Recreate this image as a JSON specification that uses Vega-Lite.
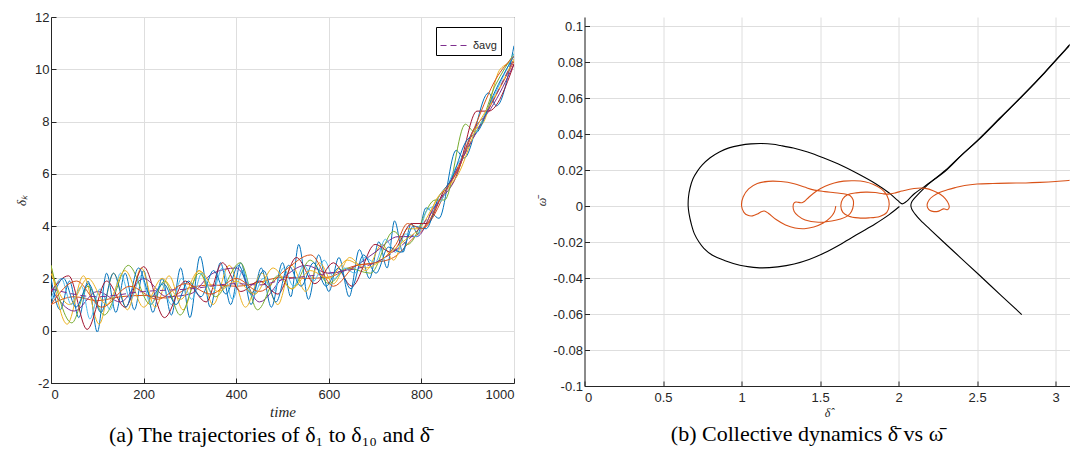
{
"$schema": "https://vega.github.io/schema/vega-lite/v6.json",
"background": "white",
"padding": {"left": 15, "top": 10, "right": 0, "bottom": 0},
"spacing": 20.5,
"config": {"font": "Liberation Sans", "axis": {"labelFont": "Liberation Sans", "labelFontSize": 13, "labelColor": "#262626", "labelOverlap": false, "tickCount": 30, "domainColor": "#262626", "tickColor": "#262626", "tickSize": -5, "gridColor": "#dedede", "gridWidth": 1, "titleFontWeight": "normal", "titleColor": "#262626"}, "axisX": {"labelPadding": 10}, "axisY": {"labelPadding": 7}},
"datasets": {
"a": [
{"s":"1","t":0,"v":2.0},{"s":"1","t":20,"v":0.8},{"s":"1","t":40,"v":1.9},{"s":"1","t":60,"v":0.5},{"s":"1","t":80,"v":1.9},{"s":"1","t":100,"v":-0.05},{"s":"1","t":120,"v":2.2},{"s":"1","t":140,"v":0.7},{"s":"1","t":160,"v":2.2},{"s":"1","t":180,"v":0.8},{"s":"1","t":200,"v":2.3},{"s":"1","t":220,"v":0.7},{"s":"1","t":240,"v":2.0},{"s":"1","t":260,"v":0.6},{"s":"1","t":280,"v":2.4},{"s":"1","t":300,"v":0.5},{"s":"1","t":322,"v":2.85},{"s":"1","t":344,"v":0.9},{"s":"1","t":366,"v":2.6},{"s":"1","t":388,"v":1.0},{"s":"1","t":410,"v":2.6},{"s":"1","t":432,"v":1.0},{"s":"1","t":454,"v":2.4},{"s":"1","t":476,"v":0.9},{"s":"1","t":500,"v":2.6},{"s":"1","t":518,"v":1.3},{"s":"1","t":535,"v":3.3},{"s":"1","t":556,"v":1.2},{"s":"1","t":578,"v":2.9},{"s":"1","t":600,"v":1.5},{"s":"1","t":622,"v":2.8},{"s":"1","t":644,"v":1.3},{"s":"1","t":666,"v":3.1},{"s":"1","t":688,"v":2.0},{"s":"1","t":708,"v":3.4},{"s":"1","t":726,"v":2.4},{"s":"1","t":742,"v":4.2},{"s":"1","t":760,"v":3.0},{"s":"1","t":778,"v":4.1},{"s":"1","t":792,"v":3.7},{"s":"1","t":810,"v":4.7},{"s":"1","t":838,"v":4.3},{"s":"1","t":875,"v":6.9},{"s":"1","t":892,"v":6.6},{"s":"1","t":945,"v":9.1},{"s":"1","t":962,"v":8.6},{"s":"1","t":1000,"v":10.9},
{"s":"2","t":0,"v":1.0},{"s":"2","t":50,"v":1.3},{"s":"2","t":100,"v":1.15},{"s":"2","t":150,"v":1.3},{"s":"2","t":200,"v":1.35},{"s":"2","t":250,"v":1.25},{"s":"2","t":300,"v":1.65},{"s":"2","t":350,"v":1.75},{"s":"2","t":400,"v":1.7},{"s":"2","t":450,"v":1.85},{"s":"2","t":500,"v":2.05},{"s":"2","t":550,"v":2.0},{"s":"2","t":600,"v":2.05},{"s":"2","t":650,"v":2.45},{"s":"2","t":700,"v":2.6},{"s":"2","t":740,"v":2.8},{"s":"2","t":780,"v":3.5},{"s":"2","t":820,"v":4.2},{"s":"2","t":860,"v":5.6},{"s":"2","t":900,"v":7.0},{"s":"2","t":940,"v":8.3},{"s":"2","t":970,"v":9.3},{"s":"2","t":1000,"v":10.3},
{"s":"3","t":0,"v":2.5},{"s":"3","t":35,"v":0.25},{"s":"3","t":70,"v":2.1},{"s":"3","t":104,"v":0.25},{"s":"3","t":135,"v":2.2},{"s":"3","t":165,"v":0.8},{"s":"3","t":195,"v":2.4},{"s":"3","t":225,"v":0.9},{"s":"3","t":255,"v":2.1},{"s":"3","t":285,"v":0.8},{"s":"3","t":320,"v":2.3},{"s":"3","t":350,"v":1.0},{"s":"3","t":385,"v":2.5},{"s":"3","t":420,"v":0.9},{"s":"3","t":455,"v":2.2},{"s":"3","t":490,"v":1.0},{"s":"3","t":520,"v":2.5},{"s":"3","t":550,"v":1.5},{"s":"3","t":580,"v":2.6},{"s":"3","t":610,"v":1.8},{"s":"3","t":645,"v":2.8},{"s":"3","t":680,"v":2.3},{"s":"3","t":715,"v":3.3},{"s":"3","t":740,"v":2.7},{"s":"3","t":770,"v":3.9},{"s":"3","t":800,"v":3.9},{"s":"3","t":835,"v":5.1},{"s":"3","t":870,"v":5.7},{"s":"3","t":910,"v":7.6},{"s":"3","t":935,"v":8.0},{"s":"3","t":970,"v":10.0},{"s":"3","t":1000,"v":10.3},
{"s":"4","t":0,"v":1.6},{"s":"4","t":50,"v":0.75},{"s":"4","t":100,"v":1.5},{"s":"4","t":150,"v":1.1},{"s":"4","t":200,"v":2.0},{"s":"4","t":250,"v":1.3},{"s":"4","t":300,"v":1.4},{"s":"4","t":350,"v":2.2},{"s":"4","t":400,"v":2.4},{"s":"4","t":450,"v":1.1},{"s":"4","t":500,"v":2.0},{"s":"4","t":550,"v":2.5},{"s":"4","t":600,"v":2.2},{"s":"4","t":650,"v":2.4},{"s":"4","t":700,"v":3.0},{"s":"4","t":750,"v":3.6},{"s":"4","t":790,"v":3.6},{"s":"4","t":830,"v":4.8},{"s":"4","t":870,"v":5.7},{"s":"4","t":910,"v":7.6},{"s":"4","t":950,"v":8.5},{"s":"4","t":1000,"v":10.2},
{"s":"5","t":0,"v":2.5},{"s":"5","t":45,"v":0.3},{"s":"5","t":80,"v":1.7},{"s":"5","t":115,"v":0.6},{"s":"5","t":167,"v":2.5},{"s":"5","t":215,"v":1.0},{"s":"5","t":245,"v":1.9},{"s":"5","t":279,"v":0.6},{"s":"5","t":320,"v":2.2},{"s":"5","t":355,"v":1.3},{"s":"5","t":409,"v":2.6},{"s":"5","t":446,"v":0.8},{"s":"5","t":490,"v":2.1},{"s":"5","t":520,"v":1.6},{"s":"5","t":560,"v":2.7},{"s":"5","t":600,"v":1.8},{"s":"5","t":640,"v":2.4},{"s":"5","t":690,"v":2.2},{"s":"5","t":740,"v":3.8},{"s":"5","t":770,"v":3.3},{"s":"5","t":830,"v":5.0},{"s":"5","t":850,"v":5.0},{"s":"5","t":895,"v":7.9},{"s":"5","t":915,"v":7.6},{"s":"5","t":960,"v":9.4},{"s":"5","t":1000,"v":10.6},
{"s":"6","t":0,"v":1.2},{"s":"6","t":22,"v":2.0},{"s":"6","t":44,"v":1.0},{"s":"6","t":66,"v":1.7},{"s":"6","t":84,"v":0.45},{"s":"6","t":106,"v":1.6},{"s":"6","t":128,"v":0.8},{"s":"6","t":150,"v":2.2},{"s":"6","t":172,"v":1.2},{"s":"6","t":194,"v":2.1},{"s":"6","t":216,"v":1.0},{"s":"6","t":238,"v":1.8},{"s":"6","t":260,"v":1.0},{"s":"6","t":282,"v":2.0},{"s":"6","t":304,"v":1.2},{"s":"6","t":326,"v":2.2},{"s":"6","t":348,"v":1.4},{"s":"6","t":370,"v":2.4},{"s":"6","t":392,"v":1.2},{"s":"6","t":414,"v":2.3},{"s":"6","t":436,"v":1.3},{"s":"6","t":458,"v":2.0},{"s":"6","t":480,"v":1.5},{"s":"6","t":502,"v":2.4},{"s":"6","t":524,"v":1.7},{"s":"6","t":546,"v":2.5},{"s":"6","t":568,"v":1.9},{"s":"6","t":590,"v":2.7},{"s":"6","t":612,"v":2.0},{"s":"6","t":634,"v":2.4},{"s":"6","t":656,"v":2.2},{"s":"6","t":678,"v":2.8},{"s":"6","t":700,"v":2.6},{"s":"6","t":722,"v":3.5},{"s":"6","t":744,"v":3.0},{"s":"6","t":766,"v":3.7},{"s":"6","t":790,"v":3.6},{"s":"6","t":812,"v":4.6},{"s":"6","t":840,"v":4.9},{"s":"6","t":870,"v":6.1},{"s":"6","t":900,"v":7.0},{"s":"6","t":930,"v":8.0},{"s":"6","t":960,"v":9.1},{"s":"6","t":1000,"v":10.6},
{"s":"7","t":0,"v":1.5},{"s":"7","t":38,"v":2.1},{"s":"7","t":78,"v":0.05},{"s":"7","t":120,"v":1.9},{"s":"7","t":160,"v":0.9},{"s":"7","t":200,"v":2.45},{"s":"7","t":245,"v":0.5},{"s":"7","t":290,"v":1.9},{"s":"7","t":335,"v":1.1},{"s":"7","t":370,"v":2.6},{"s":"7","t":410,"v":1.5},{"s":"7","t":450,"v":1.9},{"s":"7","t":490,"v":1.4},{"s":"7","t":530,"v":2.8},{"s":"7","t":570,"v":1.8},{"s":"7","t":610,"v":2.6},{"s":"7","t":650,"v":1.7},{"s":"7","t":700,"v":3.3},{"s":"7","t":735,"v":3.0},{"s":"7","t":780,"v":4.1},{"s":"7","t":810,"v":4.1},{"s":"7","t":850,"v":5.4},{"s":"7","t":880,"v":6.2},{"s":"7","t":920,"v":8.4},{"s":"7","t":945,"v":8.4},{"s":"7","t":1000,"v":10.2},
{"s":"8","t":0,"v":1.0},{"s":"8","t":27,"v":2.0},{"s":"8","t":54,"v":0.9},{"s":"8","t":81,"v":1.8},{"s":"8","t":108,"v":0.7},{"s":"8","t":135,"v":2.2},{"s":"8","t":162,"v":0.9},{"s":"8","t":189,"v":2.4},{"s":"8","t":216,"v":1.3},{"s":"8","t":243,"v":1.8},{"s":"8","t":270,"v":1.0},{"s":"8","t":297,"v":1.9},{"s":"8","t":324,"v":1.3},{"s":"8","t":351,"v":2.3},{"s":"8","t":378,"v":1.4},{"s":"8","t":405,"v":2.5},{"s":"8","t":432,"v":1.4},{"s":"8","t":459,"v":2.3},{"s":"8","t":486,"v":1.1},{"s":"8","t":513,"v":2.5},{"s":"8","t":540,"v":1.7},{"s":"8","t":567,"v":2.6},{"s":"8","t":594,"v":1.7},{"s":"8","t":621,"v":2.4},{"s":"8","t":648,"v":1.6},{"s":"8","t":675,"v":2.9},{"s":"8","t":702,"v":2.2},{"s":"8","t":729,"v":3.2},{"s":"8","t":756,"v":3.0},{"s":"8","t":783,"v":4.0},{"s":"8","t":810,"v":3.9},{"s":"8","t":837,"v":5.1},{"s":"8","t":865,"v":5.8},{"s":"8","t":895,"v":7.2},{"s":"8","t":925,"v":7.7},{"s":"8","t":955,"v":9.0},{"s":"8","t":1000,"v":10.5},
{"s":"9","t":0,"v":1.0},{"s":"9","t":55,"v":1.9},{"s":"9","t":110,"v":0.9},{"s":"9","t":170,"v":1.7},{"s":"9","t":230,"v":1.2},{"s":"9","t":290,"v":1.8},{"s":"9","t":345,"v":1.4},{"s":"9","t":400,"v":2.0},{"s":"9","t":450,"v":1.5},{"s":"9","t":505,"v":2.3},{"s":"9","t":561,"v":2.9},{"s":"9","t":610,"v":1.7},{"s":"9","t":660,"v":2.5},{"s":"9","t":700,"v":2.6},{"s":"9","t":745,"v":3.3},{"s":"9","t":770,"v":4.1},{"s":"9","t":800,"v":3.9},{"s":"9","t":840,"v":5.0},{"s":"9","t":880,"v":6.2},{"s":"9","t":920,"v":8.0},{"s":"9","t":960,"v":9.6},{"s":"9","t":1000,"v":10.5},
{"s":"10","t":0,"v":2.2},{"s":"10","t":40,"v":1.0},{"s":"10","t":80,"v":2.0},{"s":"10","t":120,"v":1.0},{"s":"10","t":160,"v":2.3},{"s":"10","t":200,"v":0.9},{"s":"10","t":240,"v":2.0},{"s":"10","t":280,"v":1.2},{"s":"10","t":320,"v":2.3},{"s":"10","t":360,"v":1.5},{"s":"10","t":400,"v":1.9},{"s":"10","t":440,"v":1.4},{"s":"10","t":480,"v":2.4},{"s":"10","t":520,"v":1.6},{"s":"10","t":560,"v":2.3},{"s":"10","t":600,"v":2.0},{"s":"10","t":640,"v":2.7},{"s":"10","t":680,"v":2.4},{"s":"10","t":720,"v":2.8},{"s":"10","t":760,"v":3.4},{"s":"10","t":800,"v":4.0},{"s":"10","t":840,"v":5.2},{"s":"10","t":880,"v":6.0},{"s":"10","t":920,"v":7.8},{"s":"10","t":960,"v":9.0},{"s":"10","t":1000,"v":10.4}
],
"avg": [
{"n":"δavg","t":0,"v":1.6},{"n":"δavg","t":100,"v":1.3},{"n":"δavg","t":200,"v":1.5},{"n":"δavg","t":300,"v":1.6},{"n":"δavg","t":400,"v":1.8},{"n":"δavg","t":450,"v":1.75},{"n":"δavg","t":500,"v":1.95},{"n":"δavg","t":600,"v":2.2},{"n":"δavg","t":700,"v":2.6},{"n":"δavg","t":760,"v":3.3},{"n":"δavg","t":800,"v":4.0},{"n":"δavg","t":850,"v":5.3},{"n":"δavg","t":900,"v":6.97},{"n":"δavg","t":950,"v":8.63},{"n":"δavg","t":1000,"v":10.4}
],
"b": [
{"c":"b1","i":0,"x":2.005,"y":-0.0003},{"c":"b1","i":1,"x":1.94,"y":-0.0048},{"c":"b1","i":2,"x":1.85,"y":-0.0100},{"c":"b1","i":3,"x":1.746,"y":-0.0153},{"c":"b1","i":4,"x":1.64,"y":-0.0208},{"c":"b1","i":5,"x":1.529,"y":-0.0260},{"c":"b1","i":6,"x":1.43,"y":-0.0297},{"c":"b1","i":7,"x":1.335,"y":-0.0322},{"c":"b1","i":8,"x":1.23,"y":-0.0338},{"c":"b1","i":9,"x":1.129,"y":-0.0344},{"c":"b1","i":10,"x":1.05,"y":-0.0338},{"c":"b1","i":11,"x":0.989,"y":-0.0329},{"c":"b1","i":12,"x":0.90,"y":-0.0305},{"c":"b1","i":13,"x":0.815,"y":-0.0274},{"c":"b1","i":14,"x":0.76,"y":-0.0235},{"c":"b1","i":15,"x":0.729,"y":-0.0200},{"c":"b1","i":16,"x":0.70,"y":-0.0155},{"c":"b1","i":17,"x":0.68,"y":-0.0100},{"c":"b1","i":18,"x":0.665,"y":-0.004},{"c":"b1","i":19,"x":0.66,"y":0.0},{"c":"b1","i":20,"x":0.662,"y":0.005},{"c":"b1","i":21,"x":0.672,"y":0.010},{"c":"b1","i":22,"x":0.69,"y":0.015},{"c":"b1","i":23,"x":0.72,"y":0.0195},{"c":"b1","i":24,"x":0.75,"y":0.0228},{"c":"b1","i":25,"x":0.80,"y":0.0268},{"c":"b1","i":26,"x":0.859,"y":0.0300},{"c":"b1","i":27,"x":0.92,"y":0.0323},{"c":"b1","i":28,"x":0.989,"y":0.0337},{"c":"b1","i":29,"x":1.06,"y":0.0345},{"c":"b1","i":30,"x":1.129,"y":0.0347},{"c":"b1","i":31,"x":1.20,"y":0.0343},{"c":"b1","i":32,"x":1.248,"y":0.0336},{"c":"b1","i":33,"x":1.33,"y":0.0322},{"c":"b1","i":34,"x":1.421,"y":0.0300},{"c":"b1","i":35,"x":1.52,"y":0.0268},{"c":"b1","i":36,"x":1.637,"y":0.0225},{"c":"b1","i":37,"x":1.75,"y":0.0175},{"c":"b1","i":38,"x":1.854,"y":0.0124},{"c":"b1","i":39,"x":1.94,"y":0.0072},{"c":"b1","i":40,"x":1.994,"y":0.0031},{"c":"b1","i":41,"x":2.022,"y":0.0012},{"c":"b1","i":42,"x":2.045,"y":0.0022},{"c":"b1","i":43,"x":2.07,"y":0.0042},{"c":"b1","i":44,"x":2.10,"y":0.0068},{"c":"b1","i":45,"x":2.17,"y":0.0112},{"c":"b1","i":46,"x":2.30,"y":0.0196},{"c":"b1","i":47,"x":2.40,"y":0.0281},{"c":"b1","i":48,"x":2.504,"y":0.0363},{"c":"b1","i":49,"x":2.65,"y":0.0490},{"c":"b1","i":50,"x":2.791,"y":0.0613},{"c":"b1","i":51,"x":2.93,"y":0.0740},{"c":"b1","i":52,"x":3.067,"y":0.0872},{"c":"b1","i":53,"x":3.15,"y":0.0950},
{"c":"b2","i":0,"x":2.784,"y":-0.0603},{"c":"b2","i":1,"x":2.65,"y":-0.0495},{"c":"b2","i":2,"x":2.503,"y":-0.0375},{"c":"b2","i":3,"x":2.40,"y":-0.0292},{"c":"b2","i":4,"x":2.286,"y":-0.0200},{"c":"b2","i":5,"x":2.20,"y":-0.0130},{"c":"b2","i":6,"x":2.14,"y":-0.0080},{"c":"b2","i":7,"x":2.105,"y":-0.0045},{"c":"b2","i":8,"x":2.085,"y":-0.0020},{"c":"b2","i":9,"x":2.078,"y":0.0005},{"c":"b2","i":10,"x":2.085,"y":0.0025},{"c":"b2","i":11,"x":2.10,"y":0.0042},{"c":"b2","i":12,"x":2.13,"y":0.0070},{"c":"b2","i":13,"x":2.178,"y":0.0112},{"c":"b2","i":14,"x":2.24,"y":0.0158},{"c":"b2","i":15,"x":2.30,"y":0.0200},{"c":"b2","i":16,"x":2.40,"y":0.0283},{"c":"b2","i":17,"x":2.504,"y":0.0366},{"c":"b2","i":18,"x":2.65,"y":0.0493},{"c":"b2","i":19,"x":2.791,"y":0.0616},{"c":"b2","i":20,"x":2.93,"y":0.0743},{"c":"b2","i":21,"x":3.067,"y":0.0875},{"c":"b2","i":22,"x":3.15,"y":0.0953}
],
"o": [
{"i":0,"x":1.60,"y":0.0},{"i":1,"x":1.59,"y":-0.0035},{"i":2,"x":1.565,"y":-0.0065},{"i":3,"x":1.52,"y":-0.0095},{"i":4,"x":1.46,"y":-0.0117},{"i":5,"x":1.40,"y":-0.0126},{"i":6,"x":1.34,"y":-0.0122},{"i":7,"x":1.28,"y":-0.0105},{"i":8,"x":1.22,"y":-0.0075},{"i":9,"x":1.17,"y":-0.0040},{"i":10,"x":1.145,"y":-0.0028},{"i":11,"x":1.125,"y":-0.0032},{"i":12,"x":1.10,"y":-0.0045},{"i":13,"x":1.07,"y":-0.0055},{"i":14,"x":1.04,"y":-0.0052},{"i":15,"x":1.015,"y":-0.0035},{"i":16,"x":1.00,"y":0.0},{"i":17,"x":1.01,"y":0.0050},{"i":18,"x":1.045,"y":0.0095},{"i":19,"x":1.10,"y":0.0125},{"i":20,"x":1.17,"y":0.0137},{"i":21,"x":1.25,"y":0.0136},{"i":22,"x":1.335,"y":0.0124},{"i":23,"x":1.40,"y":0.0105},{"i":24,"x":1.464,"y":0.0088},{"i":25,"x":1.53,"y":0.0080},{"i":26,"x":1.594,"y":0.0074},{"i":27,"x":1.65,"y":0.0068},{"i":28,"x":1.69,"y":0.0058},{"i":29,"x":1.71,"y":0.0035},{"i":30,"x":1.712,"y":0.0005},{"i":31,"x":1.70,"y":-0.0030},{"i":32,"x":1.675,"y":-0.0055},{"i":33,"x":1.63,"y":-0.0072},{"i":34,"x":1.574,"y":-0.0083},{"i":35,"x":1.489,"y":-0.0090},{"i":36,"x":1.405,"y":-0.0078},{"i":37,"x":1.36,"y":-0.0055},{"i":38,"x":1.335,"y":-0.0030},{"i":39,"x":1.328,"y":-0.0005},{"i":40,"x":1.333,"y":0.0015},{"i":41,"x":1.345,"y":0.0022},{"i":42,"x":1.365,"y":0.0020},{"i":43,"x":1.385,"y":0.0018},{"i":44,"x":1.40,"y":0.0025},{"i":45,"x":1.43,"y":0.0050},{"i":46,"x":1.48,"y":0.0085},{"i":47,"x":1.532,"y":0.0110},{"i":48,"x":1.59,"y":0.0128},{"i":49,"x":1.65,"y":0.0138},{"i":50,"x":1.72,"y":0.0140},{"i":51,"x":1.785,"y":0.0135},{"i":52,"x":1.84,"y":0.0120},{"i":53,"x":1.89,"y":0.0095},{"i":54,"x":1.925,"y":0.0060},{"i":55,"x":1.94,"y":0.0010},{"i":56,"x":1.925,"y":-0.0035},{"i":57,"x":1.88,"y":-0.0058},{"i":58,"x":1.81,"y":-0.0066},{"i":59,"x":1.743,"y":-0.0066},{"i":60,"x":1.68,"y":-0.0055},{"i":61,"x":1.645,"y":-0.0035},{"i":62,"x":1.632,"y":0.0},{"i":63,"x":1.645,"y":0.0040},{"i":64,"x":1.675,"y":0.0062},{"i":65,"x":1.73,"y":0.0073},{"i":66,"x":1.79,"y":0.0077},{"i":67,"x":1.851,"y":0.0075},{"i":68,"x":1.90,"y":0.0068},{"i":69,"x":1.936,"y":0.0066},{"i":70,"x":1.98,"y":0.0073},{"i":71,"x":2.021,"y":0.0083},{"i":72,"x":2.07,"y":0.0093},{"i":73,"x":2.12,"y":0.0099},{"i":74,"x":2.17,"y":0.0098},{"i":75,"x":2.22,"y":0.0085},{"i":76,"x":2.265,"y":0.0065},{"i":77,"x":2.298,"y":0.0040},{"i":78,"x":2.318,"y":0.0012},{"i":79,"x":2.322,"y":-0.0008},{"i":80,"x":2.313,"y":-0.0020},{"i":81,"x":2.298,"y":-0.0018},{"i":82,"x":2.285,"y":-0.0016},{"i":83,"x":2.27,"y":-0.0022},{"i":84,"x":2.25,"y":-0.0030},{"i":85,"x":2.225,"y":-0.0031},{"i":86,"x":2.20,"y":-0.0025},{"i":87,"x":2.185,"y":-0.0010},{"i":88,"x":2.182,"y":0.0010},{"i":89,"x":2.195,"y":0.0035},{"i":90,"x":2.22,"y":0.0055},{"i":91,"x":2.26,"y":0.0075},{"i":92,"x":2.31,"y":0.0090},{"i":93,"x":2.36,"y":0.0102},{"i":94,"x":2.42,"y":0.0114},{"i":95,"x":2.50,"y":0.0122},{"i":96,"x":2.60,"y":0.0125},{"i":97,"x":2.70,"y":0.0127},{"i":98,"x":2.81,"y":0.0128},{"i":99,"x":2.90,"y":0.0131},{"i":100,"x":3.00,"y":0.0136},{"i":101,"x":3.08,"y":0.0142},{"i":102,"x":3.15,"y":0.0145}
]
},
"hconcat": [
{
"width": 463, "height": 366,
"view": {"stroke": "#262626", "strokeWidth": 1},
"title": {"text": "(a)  The trajectories of δ₁ to δ₁₀ and δ̄", "orient": "bottom", "anchor": "middle", "font": "Liberation Serif", "fontSize": 22, "fontWeight": "normal", "color": "#000000", "offset": 6, "dx": -13},
"layer": [
{"data": {"name": "a"}, "mark": {"type": "line", "interpolate": "monotone", "strokeWidth": 1, "clip": true},
"encoding": {
"x": {"field": "t", "type": "quantitative", "scale": {"domain": [0, 1000], "nice": false}, "axis": {"values": [0, 200, 400, 600, 800, 1000], "labelExpr": "'' + datum.value", "title": "time", "titleFont": "Liberation Serif", "titleFontStyle": "italic", "titleFontSize": 15, "titlePadding": 3, "grid": true}},
"y": {"field": "v", "type": "quantitative", "scale": {"domain": [-2, 12], "nice": false, "zero": false}, "axis": {"values": [-2, 0, 2, 4, 6, 8, 10, 12], "labelExpr": "'' + datum.value", "title": "δₖ", "titleFont": "Liberation Serif", "titleFontStyle": "italic", "titleFontSize": 13, "titlePadding": 6, "grid": true}},
"color": {"field": "s", "type": "nominal", "scale": {"domain": ["1","2","3","4","5","6","7","8","9","10"], "range": ["#0072BD","#D95319","#EDB120","#7E2F8E","#77AC30","#4DBEEE","#A2142F","#0072BD","#D95319","#EDB120"]}, "legend": null}
}},
{"data": {"name": "avg"}, "mark": {"type": "line", "interpolate": "monotone", "strokeWidth": 1, "color": "#7E2F8E", "clip": true},
"encoding": {
"x": {"field": "t", "type": "quantitative"},
"y": {"field": "v", "type": "quantitative"},
"strokeDash": {"field": "n", "type": "nominal", "scale": {"domain": ["δavg"], "range": [[6, 4]]}, "legend": {"title": null, "orient": "none", "legendX": 385, "legendY": 10, "padding": 4, "strokeColor": "#000000", "fillColor": "#ffffff", "symbolType": "stroke", "symbolSize": 784, "symbolStrokeColor": "#7E2F8E", "symbolStrokeWidth": 1, "labelFont": "Liberation Sans", "labelFontSize": 11, "labelColor": "#262626", "cornerRadius": 0}}
}}
]
},
{
"width": 485, "height": 369,
"view": {"stroke": null},
"title": {"text": "(b)  Collective dynamics δ̄ vs ω̄", "orient": "bottom", "anchor": "middle", "font": "Liberation Serif", "fontSize": 22, "fontWeight": "normal", "color": "#000000", "offset": 6, "dx": -20},
"layer": [
{"data": {"name": "b"}, "mark": {"type": "line", "interpolate": "catmull-rom", "color": "#000000", "strokeWidth": 1.1, "clip": true},
"encoding": {
"x": {"field": "x", "type": "quantitative", "scale": {"domain": [0, 3.088], "nice": false, "zero": false}, "axis": {"values": [0, 0.5, 1, 1.5, 2, 2.5, 3], "labelExpr": "'' + datum.value", "title": "δ̂", "titleFont": "Liberation Serif", "titleFontStyle": "italic", "titleFontSize": 12, "titlePadding": 3, "grid": true}},
"y": {"field": "y", "type": "quantitative", "scale": {"domain": [-0.1, 0.105], "nice": false, "zero": false}, "axis": {"values": [-0.1, -0.08, -0.06, -0.04, -0.02, 0, 0.02, 0.04, 0.06, 0.08, 0.1], "labelExpr": "'' + datum.value", "title": "ω̄", "titleFont": "Liberation Serif", "titleFontStyle": "italic", "titleFontSize": 12, "titlePadding": 4, "grid": true}},
"detail": {"field": "c"},
"order": {"field": "i", "type": "quantitative"}
}},
{"data": {"name": "o"}, "mark": {"type": "line", "interpolate": "catmull-rom", "color": "#D95319", "strokeWidth": 1.1, "clip": true},
"encoding": {
"x": {"field": "x", "type": "quantitative"},
"y": {"field": "y", "type": "quantitative"},
"order": {"field": "i", "type": "quantitative"}
}}
]
}
]
}
